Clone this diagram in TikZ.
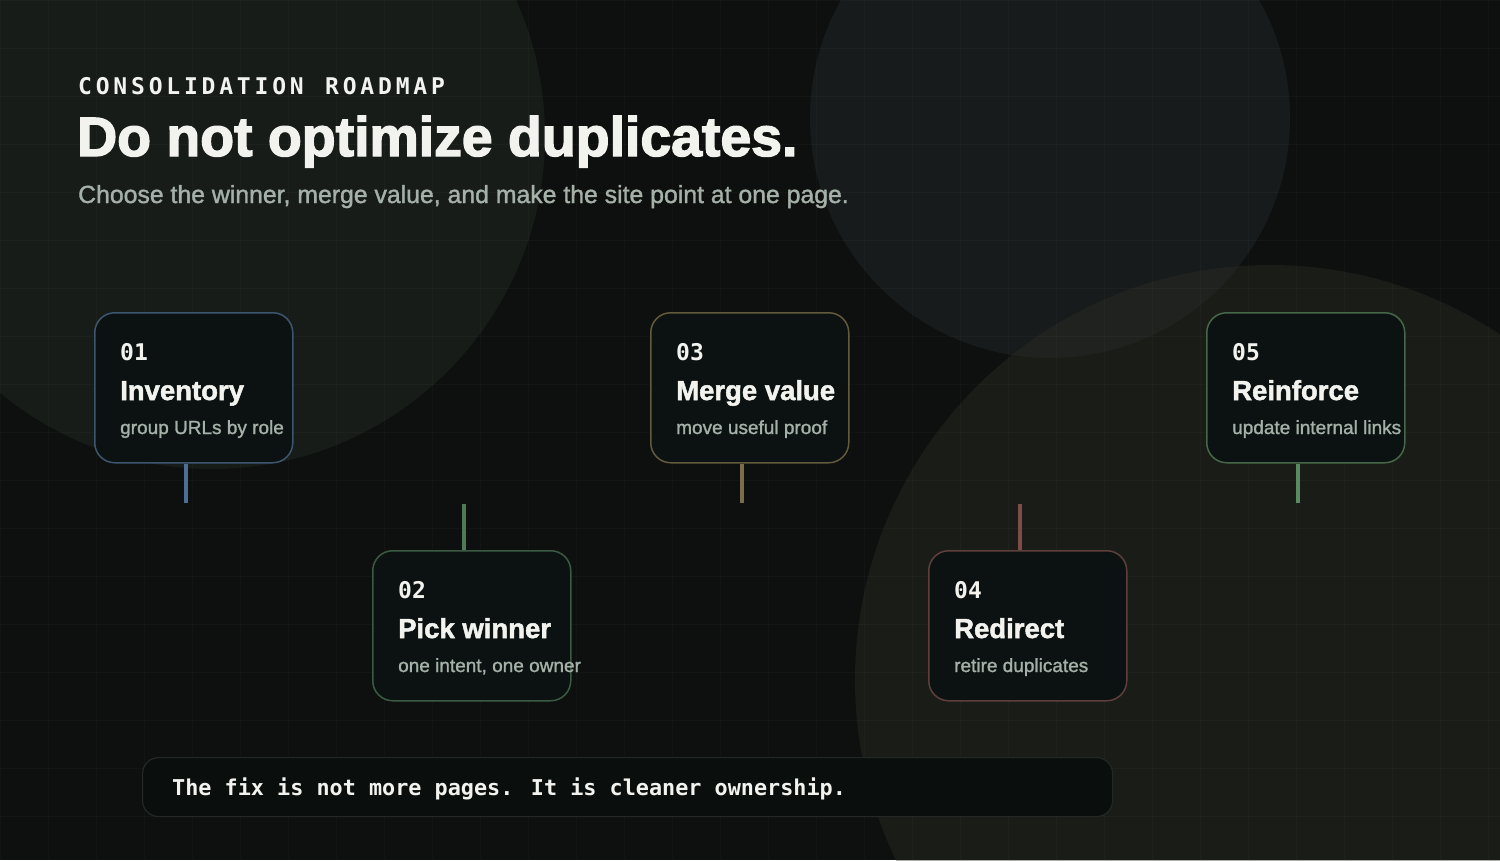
\documentclass[tikz,border=0pt]{standalone}
\usepackage{fontspec}
\setmainfont{Liberation Sans}
\newfontfamily\heavy{Liberation Sans}[BoldFeatures={FakeBold=2.5}]
\newfontfamily\semi{Liberation Sans}[BoldFeatures={FakeBold=1.8}]
\newfontfamily\medium{Liberation Sans}[FakeBold=1.4]
\newfontfamily\mono{DejaVu Sans Mono}
\usetikzlibrary{calc}
\definecolor{bg}{HTML}{0E100F}
\definecolor{tlc}{HTML}{28302B}
\definecolor{trc}{HTML}{262E33}
\definecolor{brc}{HTML}{2E2E25}
\definecolor{cardfill}{HTML}{0B1211}
\definecolor{txt}{HTML}{F2F3EF}
\definecolor{subtxt}{HTML}{A4B0A8}
\definecolor{b1}{HTML}{3D5670}
\definecolor{b2}{HTML}{3B5A44}
\definecolor{b3}{HTML}{635A3C}
\definecolor{b4}{HTML}{5E3F3B}
\definecolor{b5}{HTML}{466848}
\definecolor{l1}{HTML}{4C6F96}
\definecolor{l2}{HTML}{4F7A58}
\definecolor{l3}{HTML}{7A6E48}
\definecolor{l4}{HTML}{7D4C49}
\definecolor{l5}{HTML}{5A8A60}
\definecolor{barfill}{HTML}{0A0E0D}
\definecolor{barline}{HTML}{232826}
\newcommand\lsp{\kern3.8pt}
\begin{document}
\begin{tikzpicture}[x=1pt,y=-1pt,
  card/.style={draw=#1, line width=1.5pt, fill=cardfill, rounded corners=20pt,
    minimum width=198pt, minimum height=150pt, inner sep=0pt, anchor=north west},
  conn/.style={draw=#1, line width=3.3pt},
  num/.style={font=\mono\bfseries\fontsize{23}{26}\selectfont, text=txt, anchor=base west, inner sep=0pt},
  ttl/.style={font=\semi\bfseries\fontsize{27.5}{30}\selectfont, text=txt, anchor=base west, inner sep=0pt},
  sub/.style={font=\medium\fontsize{19}{22}\selectfont, text=subtxt, anchor=base west, inner sep=0pt},
  gridline/.style={draw=white, draw opacity=0.025, line width=1pt}]
\useasboundingbox (0,0) rectangle (1500,860);
% background
\fill[bg] (0,0) rectangle (1500,860);
\begin{scope}
\clip (0,0) rectangle (1500,860);
\fill[tlc, fill opacity=0.38] (212,136) circle[radius=333pt];
\fill[trc, fill opacity=0.38] (1050,118) circle[radius=240pt];
\fill[brc, fill opacity=0.4] (1270,680) circle[radius=415pt];
\foreach \x in {0,48,...,1500} \draw[gridline] (\x,0) -- (\x,860);
\foreach \y in {0,48,...,860} \draw[gridline] (0,\y) -- (1500,\y);
\end{scope}
% header
\node[anchor=base west, inner sep=0pt, text=txt, font=\mono\bfseries\fontsize{23}{26}\selectfont] (kicker) at (78,94)
  {C\lsp O\lsp N\lsp S\lsp O\lsp L\lsp I\lsp D\lsp A\lsp T\lsp I\lsp O\lsp N\lsp\kern17.6pt R\lsp O\lsp A\lsp D\lsp M\lsp A\lsp P};
\node[anchor=base west, inner sep=0pt, text=txt, font=\heavy\bfseries\fontsize{55.4}{60}\selectfont] (title) at (77,156)
  {Do not optimize duplicates.};
\node[anchor=base west, inner sep=0pt, text=subtxt, font=\medium\fontsize{24.8}{28}\selectfont] (subtitle) at (78,203)
  {Choose the winner, merge value, and make the site point at one page.};
% cards
\node[card=b1] (c1) at (94,312) {};
\node[card=b2] (c2) at (372,550) {};
\node[card=b3] (c3) at (650,312) {};
\node[card=b4] (c4) at (928,550) {};
\node[card=b5] (c5) at (1206,312) {};
\foreach \i/\n/\t/\s in {1/01/Inventory/group URLs by role, 2/02/Pick winner/{one intent, one owner}, 3/03/Merge value/move useful proof, 4/04/Redirect/retire duplicates, 5/05/Reinforce/update internal links}{
  \node[num] (n\i) at ($(c\i.north west)+(26,48)$) {\n};
  \node[ttl] (t\i) at ($(c\i.north west)+(26,88)$) {\t};
  \node[sub] (s\i) at ($(c\i.north west)+(26,122)$) {\s};
}
% connectors
\coordinate (e1) at (186,503);
\coordinate (e2) at (464,504);
\coordinate (e3) at (742,503);
\coordinate (e4) at (1020,504);
\coordinate (e5) at (1298,503);
\draw[conn=l1] (c1.south -| e1) -- (e1);
\draw[conn=l2] (e2) -- (c2.north -| e2);
\draw[conn=l3] (c3.south -| e3) -- (e3);
\draw[conn=l4] (e4) -- (c4.north -| e4);
\draw[conn=l5] (c5.south -| e5) -- (e5);
% bottom bar
\node[draw=barline, line width=1.2pt, fill=barfill, rounded corners=16pt, minimum width=970pt, minimum height=59pt, inner sep=0pt, anchor=north west] (bar) at (142,757) {};
\node[anchor=base west, inner sep=0pt, text=txt, font=\mono\bfseries\fontsize{21.8}{26}\selectfont] (bartext) at (172,795)
  {The fix is not more pages. It is cleaner ownership.};
\end{tikzpicture}
\end{document}
